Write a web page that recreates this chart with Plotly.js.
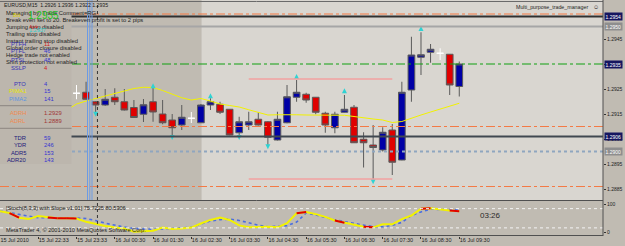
<!DOCTYPE html>
<html><head><meta charset="utf-8">
<script src="https://cdn.plot.ly/plotly-3.0.1.min.js"></script>
<style>html,body{margin:0;padding:0;background:#c0bbb2;}#chart{width:625px;height:246px;}</style>
</head><body><div id="chart"></div>
<script>
// ---------- DATA ----------
const firstBar = 8;           // index of first drawn candle (bars 0..7 hidden behind info panel)
const openP  = [1.29233,1.29237,1.29199,1.29186,1.29217,1.29199,1.29176,1.29149,1.29199,1.29150,1.29126,1.29106,1.29133,1.29115,1.29186,1.29189,1.29169,1.29075,1.29106,1.29129,1.29119,1.29046,1.29115,1.29217,1.29229,1.29217,1.29153,1.29095,1.29157,1.29177,1.29049,1.29026,1.29006,1.29086,1.28966,1.29246,1.29377,1.29397,1.29393,1.29389,1.2926];
const highP  = [1.29266,1.29279,1.29202,1.29250,1.29253,1.29250,1.29206,1.29210,1.29254,1.29206,1.29150,1.29186,1.29158,1.29190,1.29213,1.29199,1.29170,1.29139,1.29159,1.29157,1.29122,1.29159,1.29266,1.29286,1.29235,1.29218,1.29159,1.29159,1.29226,1.29186,1.29077,1.29106,1.29097,1.29110,1.29279,1.29459,1.29477,1.29430,1.29413,1.29390,1.2936];
const lowP   = [1.29209,1.29208,1.29158,1.29182,1.29186,1.29164,1.29135,1.29118,1.29119,1.29109,1.29066,1.29086,1.29114,1.29114,1.29166,1.29150,1.29065,1.29059,1.29086,1.29104,1.29026,1.29044,1.29113,1.29199,1.29195,1.29149,1.29075,1.29073,1.29156,1.29034,1.28936,1.28888,1.29000,1.28906,1.28965,1.29199,1.29306,1.29355,1.29366,1.29226,1.2922];
const closeP = [1.29233,1.29209,1.29186,1.29209,1.29199,1.29166,1.29136,1.29187,1.29158,1.29115,1.29095,1.29137,1.29133,1.29186,1.29199,1.29157,1.29066,1.29119,1.29119,1.29106,1.29057,1.29129,1.29219,1.29237,1.29206,1.29157,1.29106,1.29149,1.29169,1.29035,1.29035,1.29016,1.29077,1.28957,1.29237,1.29386,1.29387,1.29409,1.29393,1.29266,1.2935];

const maFirst = 7;
const maValues = [1.29166,1.29190,1.29202,1.29212,1.29224,1.29234,1.29244,1.29252,1.29257,1.29256,1.29244,1.29230,1.29215,1.29206,1.29212,1.29202,1.29190,1.29184,1.29178,1.29167,1.29157,1.29146,1.29147,1.29148,1.29147,1.29146,1.29145,1.29146,1.29146,1.29145,1.29140,1.29134,1.29130,1.29126,1.29116,1.29120,1.29134,1.29146,1.29158,1.29170,1.29182,1.29193];

const fractalUpBar = [16,22,31,36,44];
const fractalUpPrice = [1.29273,1.29233,1.29310,1.29253,1.29502];
const fractalDnBar = [10,18,25,28,39];
const fractalDnPrice = [1.29139,1.29046,1.29046,1.29009,1.28869];

const stochK = [76,69,52,47,58,53,50,50,49,37,29,22,16,13,1,3,5,16,11,13,16,31,44,53,44,24,17,18,19,17,32,68,73,65,55,42,34,25,19,17,28,28,47,60,85,86,81,78,75.7225];
const stochD = [76,71,64,58,52,52,52,52,51,49,42,32,24,18,13,11,10,11,13,16,17,29,40,45,47,42,33,25,19,21,23,36,69,62,53,44,38,31,25,20,19,24,35,60,73,83,82,80,80.5306];
const stochRedFrom = [1,5,6,7,31,35,38,44,47];
const stochLevels = [85,15];

const tickBars = [0,4,8,12,16,20,24,28,32,36,40,44,48];
const tickLabels = ["15 Jul 2010","15 Jul 22:33","15 Jul 23:33","16 Jul 00:30","16 Jul 01:30","16 Jul 02:30","16 Jul 03:30","16 Jul 04:30","16 Jul 05:30","16 Jul 06:30","16 Jul 07:30","16 Jul 08:30","16 Jul 09:30"];
const priceTicks = [1.2885,1.2895,1.2905,1.2915,1.2925,1.2935,1.2945];

const levelPrices = [1.2955,1.2954,1.2950,1.2935,1.2910,1.2906,1.2900,1.2886];
const rangeHigh = 1.2929, rangeLow = 1.2889, rangeFromBar = 26, rangeToBar = 41;
const vLineBars = [9.15,9.39,9.62];
const cursorBar = 10.19;
const boxStartBar = 21.07;
const tagPrices = [1.2954,1.2950,1.2935,1.2906,1.2900];
const tagLabels = ["1.2954","1.2950","1.2935","1.2906","1.2900"];

// ---------- BUILD ----------
const FONT = "Liberation Sans, Arial, sans-serif";
const PW = 603, PH = 236;
const px = x => x / PW, py = y => 1 - y / PH;

const n = openP.length;
const xs = [], oN=[],hN=[],lN=[],cN=[], oD=[],hD=[],lD=[],cD=[];
for (let j=0;j<n;j++){
  xs.push(firstBar+j);
  const doji = openP[j]===closeP[j];
  oN.push(doji?null:openP[j]); hN.push(doji?null:highP[j]); lN.push(doji?null:lowP[j]); cN.push(doji?null:closeP[j]);
  oD.push(doji?openP[j]:null); hD.push(doji?highP[j]:null); lD.push(doji?lowP[j]:null); cD.push(doji?closeP[j]:null);
}
const allBars = stochK.map((_,i)=>i);
const redX=[], redY=[];
stochRedFrom.forEach(i=>{redX.push(i,i+1,null); redY.push(stochK[i],stochK[i+1],null);});

const traces = [
  {type:'scatter', mode:'lines', x: maValues.map((_,i)=>maFirst+i), y: maValues, line:{color:'#f2f200', width:1}, hoverinfo:'skip', xaxis:'x', yaxis:'y'},
  {type:'candlestick', x: xs, open:oN, high:hN, low:lN, close:cN, xaxis:'x', yaxis:'y', hoverinfo:'skip',
    increasing:{line:{color:'#5a5a5a', width:1}, fillcolor:'#0000a6'},
    decreasing:{line:{color:'#5a5a5a', width:1}, fillcolor:'#e00000'}, whiskerwidth:0},
  {type:'candlestick', x: xs, open:oD, high:hD, low:lD, close:cD, xaxis:'x', yaxis:'y', hoverinfo:'skip',
    increasing:{line:{color:'#ffffff', width:1}, fillcolor:'#ffffff'},
    decreasing:{line:{color:'#ffffff', width:1}, fillcolor:'#ffffff'}, whiskerwidth:0},
  {type:'scatter', mode:'markers', x: fractalUpBar, y: fractalUpPrice, marker:{symbol:'arrow-up', size:5, color:'#2fd3d3', line:{width:0}}, hoverinfo:'skip'},
  {type:'scatter', mode:'markers', x: fractalDnBar, y: fractalDnPrice, marker:{symbol:'arrow-down', size:5, color:'#2fd3d3', line:{width:0}}, hoverinfo:'skip'},
  {type:'scatter', mode:'lines', x: allBars, y: stochD, line:{color:'#4a6ee0', width:1.6, dash:'dot'}, xaxis:'x', yaxis:'y2', hoverinfo:'skip'},
  {type:'scatter', mode:'lines', x: allBars, y: stochK, line:{color:'#f2f200', width:2}, xaxis:'x', yaxis:'y2', hoverinfo:'skip'},
  {type:'scatter', mode:'lines', x: redX, y: redY, line:{color:'#e00000', width:2}, xaxis:'x', yaxis:'y2', hoverinfo:'skip', connectgaps:false}
];

const shapes = [];
shapes.push({type:'rect', layer:'below', xref:'x', yref:'y domain', x0:boxStartBar, x1:70, y0:0, y1:1, fillcolor:'#d9d6d0', line:{width:0}});
const lvlStyle = [
  {color:'#f47a45', width:1, dash:'dashdot'},
  {color:'#303030', width:2, dash:'solid'},
  {color:'#a6a6a6', width:2, dash:'solid'},
  {color:'#10a010', width:1, dash:'dashdot'},
  {color:'#f47a45', width:1, dash:'dashdot'},
  {color:'#404850', width:2, dash:'solid'},
  {color:'#8fa6bf', width:2, dash:'dot'},
  {color:'#f47a45', width:1, dash:'dashdot'}
];
levelPrices.forEach((p,k)=>shapes.push({type:'line', layer:'above', xref:'x domain', yref:'y', x0:0, x1:1, y0:p, y1:p, line:lvlStyle[k]}));
[rangeHigh, rangeLow].forEach(p=>shapes.push({type:'line', layer:'above', xref:'x', yref:'y', x0:rangeFromBar, x1:rangeToBar, y0:p, y1:p, line:{color:'#f2a0a0', width:1.5}}));
vLineBars.forEach(b=>shapes.push({type:'line', layer:'above', xref:'x', yref:'y domain', x0:b, x1:b, y0:0, y1:1, line:{color:'#6b9be6', width:1}}));
shapes.push({type:'line', layer:'above', xref:'x', yref:'paper', x0:cursorBar, x1:cursorBar, y0:0, y1:1, line:{color:'#333333', width:1, dash:'dot'}});
stochLevels.forEach(v=>shapes.push({type:'line', layer:'above', xref:'x domain', yref:'y2', x0:0, x1:1, y0:v, y1:v, line:{color:'#f4f4f4', width:1, dash:'dot'}}));
shapes.push({type:'rect', layer:'above', xref:'paper', yref:'paper', x0:0, x1:px(71.5), y0:py(164), y1:1, fillcolor:'#bcb6ad', line:{width:0}});
[105.7,128.3].forEach(y=>shapes.push({type:'line', layer:'above', xref:'paper', yref:'paper', x0:0, x1:px(71.5), y0:py(y), y1:py(y), line:{color:'#8c8680', width:1}}));
shapes.push({type:'line', layer:'above', xref:'paper', yref:'paper', x0:0, x1:1, y0:py(1.5), y1:py(1.5), line:{color:'#6a6a6a', width:1}});
shapes.push({type:'line', layer:'above', xref:'paper', yref:'paper', x0:0, x1:1, y0:py(200.5), y1:py(200.5), line:{color:'#505050', width:1}});
shapes.push({type:'line', layer:'above', xref:'paper', yref:'paper', x0:0, x1:1, y0:py(235.5), y1:py(235.5), line:{color:'#505050', width:1}});
shapes.push({type:'line', layer:'above', xref:'paper', yref:'paper', x0:1, x1:1, y0:0, y1:1, line:{color:'#505050', width:1}});

const ann = [];
function txt(x,y,t,size,color,anchor,extra){ ann.push(Object.assign({xref:'paper', yref:'paper', x:px(x), y:py(y), text:t, showarrow:false, xanchor:anchor||'left', yanchor:'middle', font:{family:FONT, size:size, color:color}}, extra||{})); }

txt(2,5,"EURUSD,M15  1.2926 1.2936 1.2922 1.2935",5.2,'#1a1a1a');
const infoLines = ["Managing by: Trade Comment=RG","Break even set to 20. Breakeven profit is set to 2 pips","Jumping stop disabled","Trailing stop disabled","Instant trailing stop disabled","Global order closure disabled","Hedge trade not enabled","Shirt protection not enabled"];
infoLines.forEach((t,k)=>txt(4,12.7+k*7,t,5.8,'#1e1e1e'));
txt(26,15,"1.2935",10,'#22c322');
txt(11,15,"Bid",5,'#e0d000');
txt(27,26.5,"Ask",5.5,'#d02020');
txt(27,30.5,"1.2937",5.5,'#30d0d0');
const rows = [
 [43.5,"PTFH",'#3535b5',"11",'#d02020'],
 [51.5,"PTFL",'#3535b5',"46",'#3535d0'],
 [59.5,"PTSL",'#3535b5',"48",'#3535d0'],
 [67.5,"SSLP",'#3535b5',"4",'#d02020'],
 [83.5,"PTO",'#3535b5',"4",'#3535d0'],
 [91,"PIMA1",'#e6e600',"15",'#3535d0'],
 [98.5,"PIMA2",'#5a95e0',"141",'#3535d0'],
 [113.5,"ADRH",'#f08a50',"1.2929",'#a03535'],
 [121,"ADRL",'#f08a50',"1.2889",'#a03535'],
 [137.5,"TDR",'#20207a',"59",'#3535d0'],
 [145,"YDR",'#20207a',"246",'#3535d0'],
 [152.5,"ADR5",'#20207a',"153",'#3535d0'],
 [160,"ADR20",'#20207a',"143",'#3535d0']
];
rows.forEach(r=>{ txt(28,r[0],r[1],5.8,r[2],'right'); txt(42,r[0],r[3],5.8,r[4]); });
txt(590,6.5,"Multi_purpose_trade_manager",5.3,'#1e1e1e','right');
txt(591,6.5,"☺",6,'#1e1e1e');
txt(4,208,"[Stoch(8,3,3) with Slope v1.01] 75.7225 80.5306",5.6,'#1e1e1e');
txt(4,230,"MetaTrader 4, © 2001-2010 MetaQuotes Software Corp.",5.6,'#1e1e1e');
txt(478,215,"03:26",8,'#2a2a2a');
tagPrices.forEach((p,k)=>ann.push({xref:'paper', yref:'y', x:1, y:p, xanchor:'left', yanchor:'middle', xshift:1, showarrow:false, text:tagLabels[k], bgcolor:(k===1||k===4)?'#8e8e8e':'#161660', borderpad:0.5, font:{family:FONT, size:5, color:'#ffffff'}}));

const layout = {
  width:625, height:246, margin:{l:0, r:22, t:0, b:10},
  paper_bgcolor:'#c0bbb2', plot_bgcolor:'#c0bbb2', showlegend:false,
  boxgap:0.3, boxgroupgap:0,
  xaxis:{anchor:'y2', range:[0.006,63.02], tickmode:'array', tickvals:tickBars, ticktext:tickLabels, tickangle:0, ticklabelposition:'outside right', ticklabelstandoff:-2, ticks:'outside', ticklen:2, tickcolor:'#333', tickfont:{family:FONT, size:5.5, color:'#222'}, showgrid:false, zeroline:false, showline:false, rangeslider:{visible:false}, fixedrange:true},
  yaxis:{domain:[36/236,1], range:[1.28806,1.29606], side:'right', anchor:'x', tickmode:'array', tickvals:priceTicks, ticktext:priceTicks.map(v=>v.toFixed(4)), ticks:'outside', ticklen:2, tickcolor:'#333', tickfont:{family:FONT, size:5, color:'#222'}, showgrid:false, zeroline:false, fixedrange:true},
  yaxis2:{domain:[0,34/236], range:[-14.5,109.1], side:'right', anchor:'x', tickmode:'array', tickvals:[0,100], ticktext:['0','100'], ticks:'outside', ticklen:2, tickcolor:'#333', tickfont:{family:FONT, size:5, color:'#222'}, showgrid:false, zeroline:false, fixedrange:true},
  shapes:shapes, annotations:ann
};
Plotly.newPlot('chart', traces, layout, {staticPlot:true, displayModeBar:false});
</script></body></html>
